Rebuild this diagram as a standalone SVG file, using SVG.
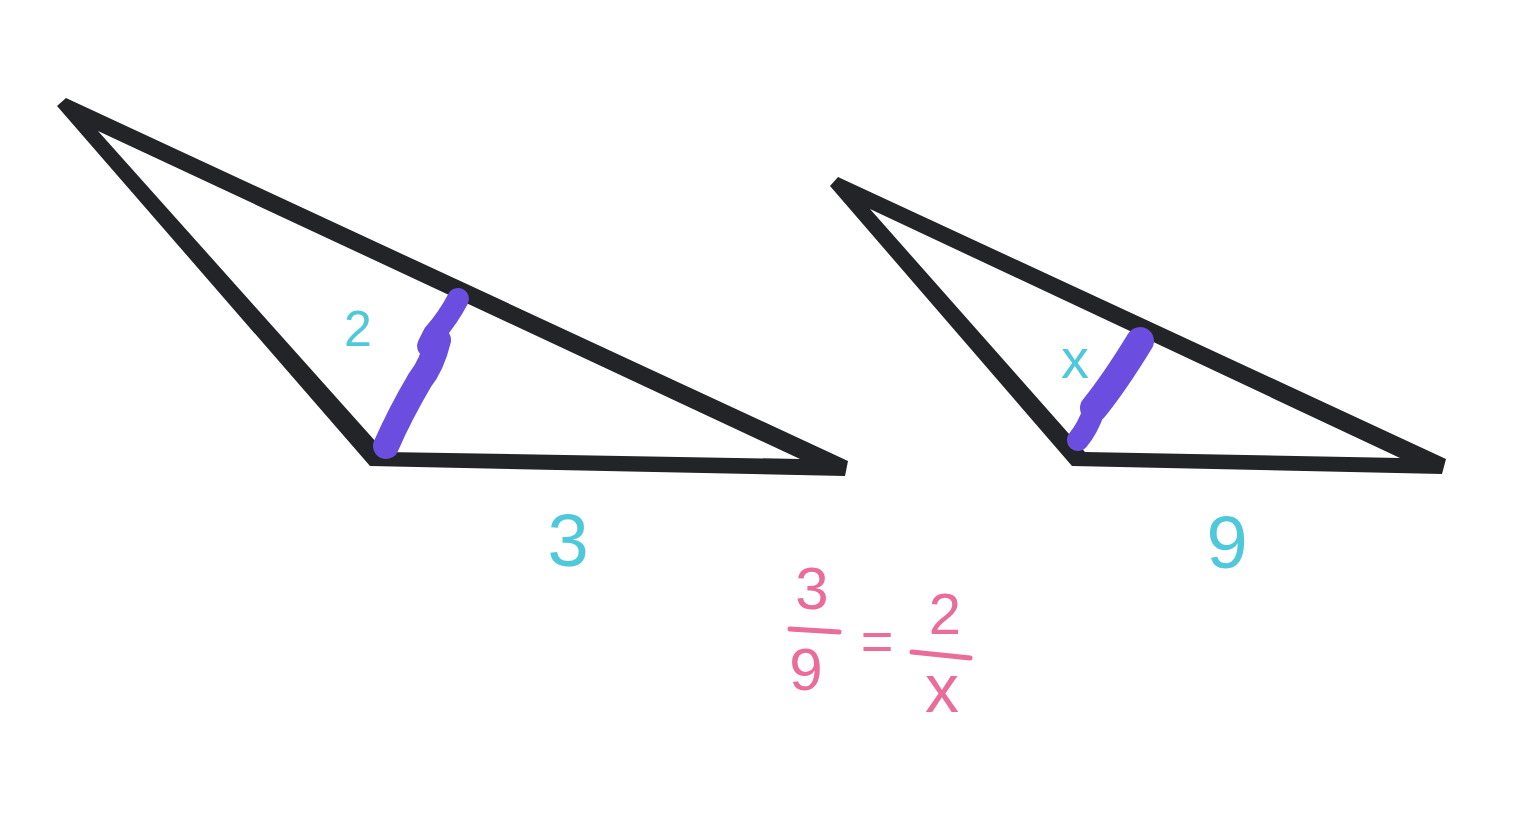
<svg xmlns="http://www.w3.org/2000/svg" width="1528" height="818" viewBox="0 0 1528 818">
<style>
.tri{fill:#222427;fill-rule:evenodd}
.mark{fill:none;stroke:#6B4DE0;stroke-linecap:round;stroke-linejoin:round}
.cy{fill:#4FC9DA;font-family:"Liberation Sans",Arial,sans-serif;text-anchor:middle}
.pk{fill:#E96C99;font-family:"Liberation Sans",Arial,sans-serif;text-anchor:middle}
.bar{stroke:#E96C99;stroke-width:5;stroke-linecap:round;fill:none}
</style>
<rect width="1528" height="818" fill="#ffffff"/>
<g id="triangle-left">
<path class="tri" d="M57,106 L66,98 L848,461 L845,476 L370,466 Z M98,131 L385,452 L800,459 Z"/>
</g>
<g id="triangle-right">
<path class="tri" d="M830,186 L838,177 L1446,459 L1442,474 L1072,466 Z M870,209 L1085,452 L1400,458 Z"/>
</g>
<g id="marks">
<path class="mark" stroke-width="22" d="M458,299 Q448,318 434,334 L428,346"/>
<path class="mark" stroke-width="26" d="M438,340 Q432,365 420,380 Q400,414 386,446"/>
<path class="mark" stroke-width="28" d="M1140,341 Q1115,382 1094,408"/>
<path class="mark" stroke-width="22" d="M1094,410 Q1088,428 1078,440"/>
</g>
<g id="labels">
<text class="cy" x="358" y="346" font-size="50">2</text>
<text class="cy" x="568" y="566" font-size="74">3</text>
<text class="cy" x="1227" y="568" font-size="74">9</text>
<text class="cy" x="1075" y="378" font-size="56">x</text>
</g>
<g id="equation">
<text class="pk" x="812" y="609" font-size="60">3</text>
<line class="bar" x1="790" y1="629" x2="839" y2="632"/>
<text class="pk" x="806" y="690" font-size="60">9</text>
<text class="pk" x="877" y="660" font-size="56">=</text>
<text class="pk" x="945" y="634" font-size="58">2</text>
<line class="bar" x1="912" y1="652" x2="970" y2="658"/>
<text class="pk" x="942" y="712" font-size="68">x</text>
</g>
</svg>
